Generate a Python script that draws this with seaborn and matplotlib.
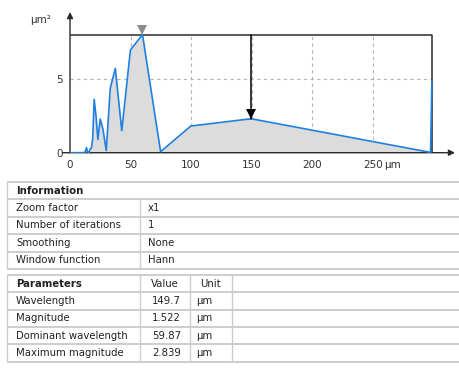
import matplotlib
matplotlib.use("Agg")
import matplotlib.pyplot as plt
import matplotlib.transforms as mtransforms
from matplotlib.ticker import MultipleLocator, FixedLocator
import numpy as np
import pandas as pd
import seaborn as sns

# --- spectrum data (wavelength in µm, power in µm²) ---
wavelength = [0.0, 10.0, 12.5, 13.6, 14.3, 15.0, 15.8, 16.6, 17.6, 18.7,
              19.96, 21.38, 23.03, 24.95, 27.21, 29.94, 33.26, 37.42, 42.76,
              49.89, 59.87, 74.84, 99.78, 149.7, 297.8, 298.9]
power = [0.0, 0.0, 0.02, 0.35, 0.1, 0.0, 0.02, 0.25, 0.3, 0.9,
         3.64, 2.6, 0.9, 2.3, 1.6, 0.15, 4.4, 5.75, 1.5,
         7.0, 8.06, 0.07, 1.82, 2.316, 0.02, 4.84]

# --- result tables ---
info_labels = ["Zoom factor", "Number of iterations", "Smoothing", "Window function"]
info_values = ["x1", "1", "None", "Hann"]
param_labels = ["Wavelength", "Magnitude", "Dominant wavelength", "Maximum magnitude"]
param_values = [149.7, 1.522, 59.87, 2.839]
param_units = ["µm", "µm", "µm", "µm"]

x_ticks = [0, 50, 100, 150, 200, 250]
x_tick_labels = ["0", "50", "100", "150", "200", "250"]
x_unit = "µm"
y_ticks = [0, 5]
y_tick_labels = ["0", "5"]
y_unit = "µm²"

sns.set_style("white")
plt.rcParams["font.family"] = ["DejaVu Sans"]

W, H = 460, 370
fig = plt.figure(figsize=(W / 100, H / 100), dpi=100)
fig.patch.set_facecolor("white")

ax = fig.add_axes([70 / W, 1 - 152.7 / H, 385 / W, (152.7 - 12) / H])
ax.set_facecolor("none")
ax.set_xlim(0, 318)
ax.set_ylim(0, 9.6)

df = pd.DataFrame({"wavelength": wavelength, "power": power})

BLUE = "#1f80e0"
DARK = "#2b2b2b"
LABEL = "#333333"

sel_wl = param_values[0]
sel_pow = param_values[1] ** 2
dom_wl = param_values[2]
max_pow = param_values[3] ** 2
x_end = 299.35

# dashed grid inside the frame
for gx in x_ticks[1:]:
    ax.plot([gx, gx], [0, max_pow], color="#b5b5b5", lw=0.8,
            ls=(0, (3, 3)), zorder=1)
for gy in y_ticks[1:]:
    ax.plot([0, x_end], [gy, gy], color="#b5b5b5", lw=0.8,
            ls=(0, (3, 3)), zorder=1)
# dominant wavelength guide
ax.plot([dom_wl, dom_wl], [0, max_pow], color="#b5b5b5", lw=0.8,
        ls=(0, (3, 3)), zorder=1)

ax.fill_between(df["wavelength"], df["power"], 0, color="#dcdcdc", zorder=2, lw=0)
sns.lineplot(data=df, x="wavelength", y="power", ax=ax, color=BLUE, lw=1.2,
             sort=False, estimator=None, zorder=4)

# maximum frame
ax.plot([0, x_end, x_end], [max_pow, max_pow, 0], color=DARK, lw=1.1, zorder=3)
# selected wavelength cursor
ax.plot([sel_wl, sel_wl], [max_pow, sel_pow], color="black", lw=1.1, zorder=5)
down = mtransforms.offset_copy(ax.transData, fig=fig, x=0, y=4.5, units="dots")
ax.plot([sel_wl], [sel_pow], marker="v", ms=7, color="black", mew=0,
        transform=down, zorder=6, clip_on=False)
ax.plot([dom_wl], [max_pow], marker="v", ms=7, color="#8c8c8c", mew=0,
        transform=down, zorder=6, clip_on=False)

# axes with arrows
for s in ax.spines.values():
    s.set_visible(False)
ax.annotate("", xy=(1, 0), xytext=(-0.02, 0), xycoords="axes fraction",
            arrowprops=dict(arrowstyle="-|>", color=DARK, lw=1.0,
                            mutation_scale=9, shrinkA=0, shrinkB=0))
ax.annotate("", xy=(0, 1), xytext=(0, 0), xycoords="axes fraction",
            arrowprops=dict(arrowstyle="-|>", color=DARK, lw=1.0,
                            mutation_scale=9, shrinkA=0, shrinkB=0))

ax.xaxis.set_major_locator(FixedLocator(x_ticks))
ax.set_xticklabels(x_tick_labels)
ax.xaxis.set_minor_locator(MultipleLocator(10))
ax.yaxis.set_major_locator(FixedLocator(y_ticks))
ax.set_yticklabels(y_tick_labels)
ax.yaxis.set_minor_locator(FixedLocator([1, 2, 3, 4, 6, 7, 8]))
ax.tick_params(axis="both", which="both", direction="out", length=3,
               width=0.9, color=DARK, labelsize=7.5, labelcolor=LABEL, pad=2)
ax.set_xlabel("")
ax.set_ylabel("")

# unit after the last x tick label
ax.annotate(x_unit, xy=(x_ticks[-1], 0), xycoords="data",
            xytext=(8, -5), textcoords="offset points",
            ha="left", va="top", fontsize=7.5, color=LABEL, annotation_clip=False)
# y unit beside the arrow tip
ax.annotate(y_unit, xy=(0, 1), xycoords="axes fraction",
            xytext=(-14, -2), textcoords="offset points",
            ha="right", va="top", fontsize=7.5, color=LABEL)

# --- tables drawn in pixel coordinates ---
tab = fig.add_axes([0, 0, 1, 1])
tab.set_xlim(0, W)
tab.set_ylim(H, 0)
tab.axis("off")
tab.set_zorder(-1)

LINE = "#cdcdcd"
TXT = "#222222"
FS = 7.3
left, right = 7, 470


def hline(y):
    tab.plot([left, right], [y, y], color=LINE, lw=1.4, solid_capstyle="butt")


def vline(x, y0, y1):
    tab.plot([x, x], [y0, y1], color=LINE, lw=1.0, solid_capstyle="butt")


# information table
rows1 = [182, 199.3, 216.7, 234, 251.7, 269]
for y in rows1:
    hline(y)
vline(left, rows1[0], rows1[-1])
vline(140, rows1[1], rows1[-1])
tab.text(16, (rows1[0] + rows1[1]) / 2, "Information", fontsize=FS,
         fontweight="bold", color=TXT, va="center", ha="left")
for i, (lab, val) in enumerate(zip(info_labels, info_values)):
    yc = (rows1[i + 1] + rows1[i + 2]) / 2
    tab.text(16, yc, lab, fontsize=FS, color=TXT, va="center", ha="left")
    tab.text(148, yc, val, fontsize=FS, color=TXT, va="center", ha="left")

# parameters table
rows2 = [275, 292.3, 309.7, 327, 344.3, 362]
for y in rows2:
    hline(y)
vline(left, rows2[0], rows2[-1])
for cx in (140, 190, 232):
    vline(cx, rows2[0], rows2[-1])
yc = (rows2[0] + rows2[1]) / 2
tab.text(16, yc, "Parameters", fontsize=FS, fontweight="bold", color=TXT,
         va="center", ha="left")
tab.text(165, yc, "Value", fontsize=FS, color=TXT, va="center", ha="center")
tab.text(211, yc, "Unit", fontsize=FS, color=TXT, va="center", ha="center")
for i, (lab, val, unit) in enumerate(zip(param_labels, param_values, param_units)):
    yc = (rows2[i + 1] + rows2[i + 2]) / 2
    tab.text(16, yc, lab, fontsize=FS, color=TXT, va="center", ha="left")
    tab.text(181, yc, f"{val:g}", fontsize=FS, color=TXT, va="center", ha="right")
    tab.text(196, yc, unit, fontsize=FS, color=TXT, va="center", ha="left")

fig.savefig("out.png", dpi=100, facecolor="white")
